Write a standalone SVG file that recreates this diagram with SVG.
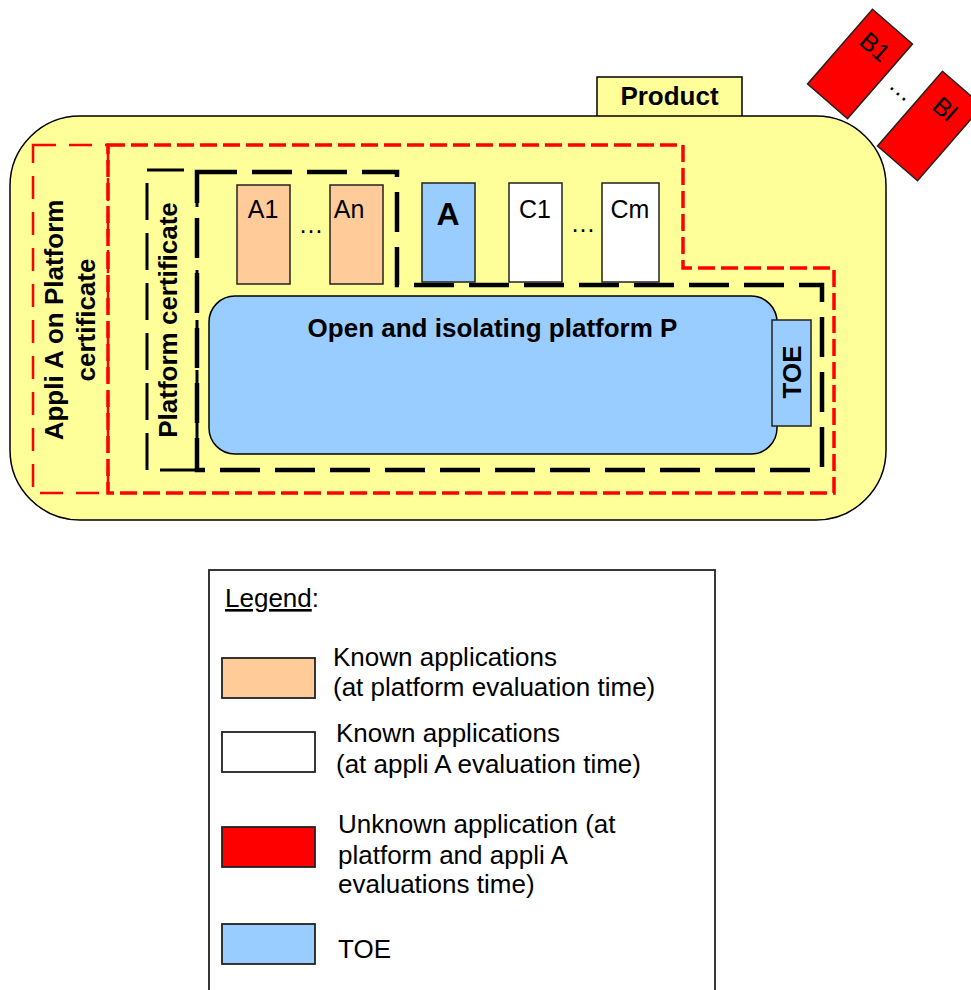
<svg xmlns="http://www.w3.org/2000/svg" width="971" height="990" viewBox="0 0 971 990">
<style>
text{font-family:"Liberation Sans",Arial,sans-serif;fill:#000}
.b{font-weight:bold}
.r{font-size:26px}
.s{font-size:25px}
.app{stroke:#222;stroke-width:1.5}
.peach{fill:#FFCC99}
.blue{fill:#99CCFF}
.red{fill:#FF0000}
.white{fill:#FFFFFF}
.lg{stroke:#222;stroke-width:1.8}
</style>
<rect width="971" height="990" fill="#fff"/>
<g id="product">
<rect x="597" y="77" width="145" height="44" fill="#FFFF99" stroke="#000" stroke-width="1.5"/>
<text x="669.5" y="105" class="b r" text-anchor="middle">Product</text>
</g>
<g id="device">
<rect x="10" y="116" width="876" height="404" rx="70" ry="70" fill="#FFFF99" stroke="#000" stroke-width="1.5"/>
</g>
<g id="platform">
<rect x="209" y="296" width="568" height="158" rx="26" ry="26" fill="#99CCFF" stroke="#000" stroke-width="1.5"/>
<text x="492.5" y="337" class="b r" text-anchor="middle">Open and isolating platform P</text>
</g>
<g id="toe">
<rect x="772" y="320" width="39" height="106" fill="#99CCFF" stroke="#222" stroke-width="1.5"/>
<text transform="translate(801,372) rotate(-90)" class="b r" text-anchor="middle">TOE</text>
</g>
<g id="connectors" fill="none">
<rect x="33" y="145" width="75" height="348" stroke="#FF0000" stroke-width="2.5" stroke-dasharray="23 13"/>
<path d="M108,145 H683 V268 H834 V493 H108 Z" stroke="#FF0000" stroke-width="3.5" stroke-dasharray="17 6"/>
<rect x="147" y="170" width="50" height="300" stroke="#000" stroke-width="3" stroke-dasharray="37 13"/>
<path d="M197,172 H397 V285 H822 V470 H197 Z" stroke="#000" stroke-width="4.5" stroke-dasharray="40 15"/>
</g>
<g id="labels-cert">
<text transform="translate(63,320) rotate(-90)" class="b r" text-anchor="middle">Appli A on Platform</text>
<text transform="translate(95,320) rotate(-90)" class="b r" text-anchor="middle">certificate</text>
<text transform="translate(177,320) rotate(-90)" class="b r" text-anchor="middle">Platform certificate</text>
</g>
<g id="A1">
<rect x="237" y="185" width="53" height="99" class="app peach"/>
<text x="263" y="218" class="s" text-anchor="middle">A1</text>
</g>
<text x="311" y="233" class="s" text-anchor="middle">…</text>
<g id="An">
<rect x="330" y="185" width="53" height="99" class="app peach"/>
<text x="349" y="218" class="s" text-anchor="middle">An</text>
</g>
<g id="A">
<rect x="422" y="183" width="53" height="99" class="app blue"/>
<text x="448" y="225" class="b" font-size="32" text-anchor="middle">A</text>
</g>
<g id="C1">
<rect x="509" y="183" width="53" height="99" class="app white"/>
<text x="535" y="218" class="s" text-anchor="middle">C1</text>
</g>
<text x="583" y="232" class="s" text-anchor="middle">…</text>
<g id="Cm">
<rect x="602" y="183" width="57" height="99" class="app white"/>
<text x="630" y="218" class="s" text-anchor="middle">Cm</text>
</g>
<g id="B1" transform="translate(860,64) rotate(41)">
<rect x="-26.5" y="-49.5" width="53" height="99" class="app red"/>
<text x="0" y="-14" class="s" text-anchor="middle">B1</text>
</g>
<text transform="translate(897,95) rotate(41)" class="s" text-anchor="middle">…</text>
<g id="Bl" transform="translate(930,126) rotate(41)">
<rect x="-26.5" y="-49.5" width="53" height="99" class="app red"/>
<text x="0" y="-14" class="s" text-anchor="middle">Bl</text>
</g>
<g id="legend">
<rect x="209" y="570" width="506" height="440" fill="#fff" stroke="#222" stroke-width="1.8"/>
<text x="225" y="607" class="r"><tspan text-decoration="underline">Legend</tspan>:</text>
<rect x="222" y="658" width="93" height="40" class="lg peach"/>
<text x="333" y="666" class="r">Known applications</text>
<text x="333" y="696" class="r">(at platform evaluation time)</text>
<rect x="222" y="732" width="93" height="40" class="lg white"/>
<text x="336" y="742" class="r">Known applications</text>
<text x="336" y="773" class="r">(at appli A evaluation time)</text>
<rect x="222" y="827" width="93" height="40" class="lg red"/>
<text x="338" y="833" class="r">Unknown application (at</text>
<text x="338" y="864" class="r">platform and appli A</text>
<text x="338" y="893" class="r">evaluations time)</text>
<rect x="222" y="924" width="93" height="40" class="lg blue"/>
<text x="338" y="958" class="r">TOE</text>
</g>
</svg>
